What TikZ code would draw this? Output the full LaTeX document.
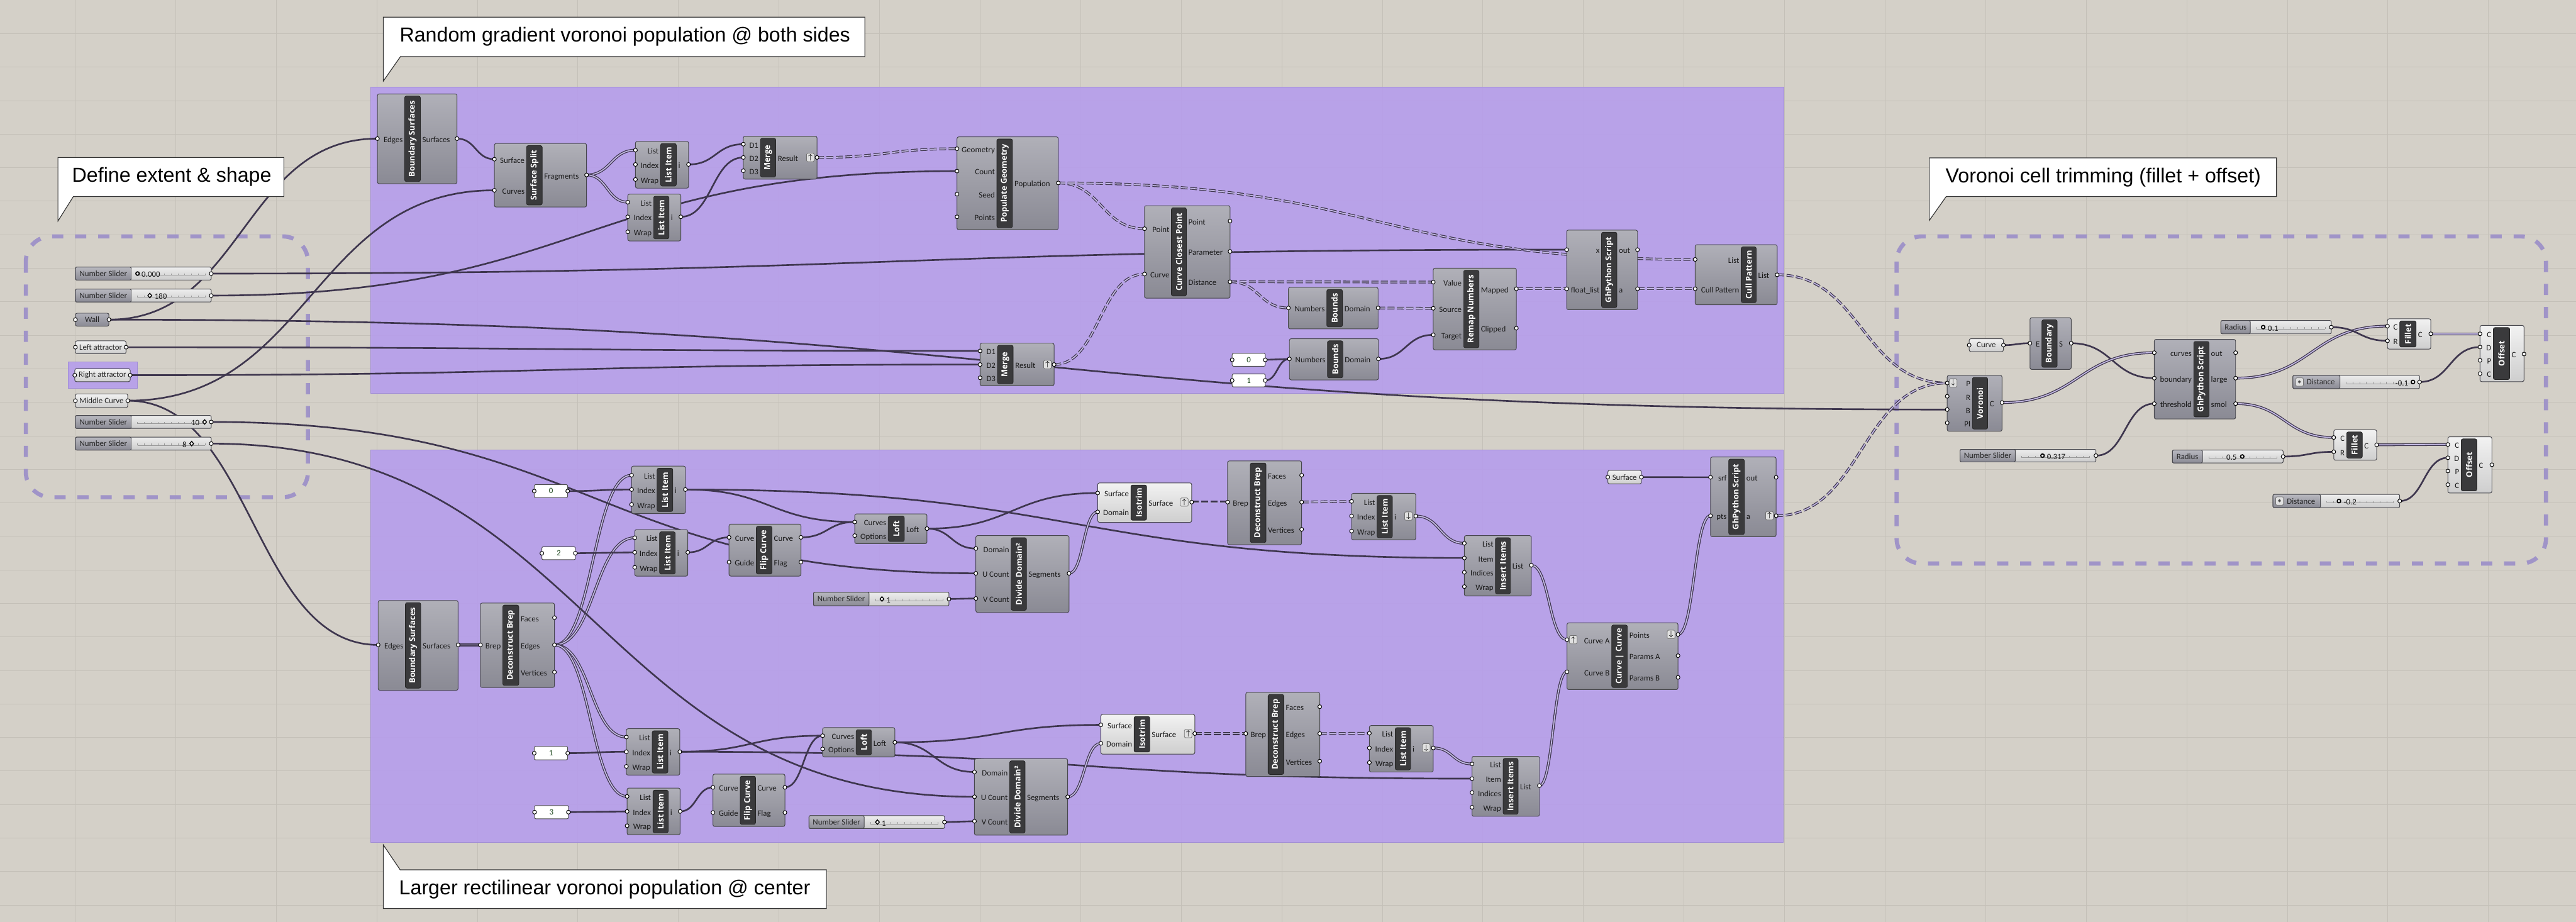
\documentclass[tikz,border=0pt]{standalone}
\usepackage{fontspec}
\setmainfont{Liberation Sans}
\newfontfamily\ghfont{Carlito}
\newfontfamily\barfont{Open Sans}
\usetikzlibrary{calc,shapes.geometric}
\definecolor{ghcanvas}{RGB}{212,208,200}
\definecolor{ghgrid}{RGB}{196,192,184}
\definecolor{ghgroup}{RGB}{182,157,236}
\definecolor{ghgroupline}{RGB}{160,140,215}
\definecolor{ghdash}{RGB}{160,148,200}
\definecolor{ghtop}{RGB}{176,176,184}
\definecolor{ghbot}{RGB}{138,138,148}
\definecolor{ghltop}{RGB}{242,242,242}
\definecolor{ghlbot}{RGB}{206,206,206}
\definecolor{ghedge}{RGB}{70,70,76}
\definecolor{ghbarc}{RGB}{58,58,60}
\definecolor{ghwire}{RGB}{62,54,78}
\definecolor{ghwirein}{RGB}{196,186,228}
\definecolor{ghpanel}{RGB}{30,72,30}
\pgfdeclarelayer{canvas}
\pgfdeclarelayer{wires}
\pgfsetlayers{canvas,wires,main}

% component: style, name, x1, y1, x2, y2, bar x1, bar x2, title
\newcommand{\ghc}[9]{%
  \xdef\gxl{#3}\xdef\gxr{#5}\xdef\gbl{#7}\xdef\gbr{#8}%
  \node[#1, minimum width={(#5-#3)*1cm}, minimum height={(#6-#4)*1cm}] (#2) at ({(#3+#5)/2},{(#4+#6)/2}) {};
  \node[ghbar, minimum width={(#6-#4-0.12)*1cm}, minimum height={(#8-#7)*1cm}] (#2-bar) at ({(#7+#8)/2},{(#4+#6)/2}) {#9};}
% input / output port of the last component
\newcommand{\inp}[3]{%
  \coordinate (#1) at (\gxl,#2);
  \node[plab, anchor=east] (#1-l) at ({\gbl-0.05},#2) {#3};
  \node[port] (#1-p) at (#1) {};}
\newcommand{\outp}[3]{%
  \coordinate (#1) at (\gxr,#2);
  \node[plab, anchor=west] (#1-l) at ({\gbr+0.05},#2) {#3};
  \node[port] (#1-p) at (#1) {};}
% parameter or panel: style, name, x1, y1, x2, y2, text
\newcommand{\ghbox}[7]{%
  \node[#1, minimum width={(#5-#3)*1cm}, minimum height={(#6-#4)*1cm}] (#2) at ({(#3+#5)/2},{(#4+#6)/2}) {#7};
  \coordinate (#2-i) at (#3,{(#4+#6)/2});
  \coordinate (#2-o) at (#5,{(#4+#6)/2});
  \node[port] (#2-ip) at (#2-i) {};
  \node[port] (#2-op) at (#2-o) {};}
% slider: name, x1, y1, x2, y2, split, label
\newcommand{\ghsl}[7]{%
  \node[sldval, minimum width={(#4-#2)*1cm}, minimum height={(#5-#3)*1cm}] (#1) at ({(#2+#4)/2},{(#3+#5)/2}) {};
  \node[sldlab, minimum width={(#6-#2)*1cm}, minimum height={(#5-#3)*1cm}] (#1-lab) at ({(#2+#6)/2},{(#3+#5)/2}) {#7};
  \draw[sldtick] ({#6+0.18},{(#3+#5)/2+0.05}) -- ({#4-0.18},{(#3+#5)/2+0.05});
  \foreach \tk in {0,...,10} \draw[sldtick] ({#6+0.18+\tk*(#4-#6-0.36)/10},{(#3+#5)/2+0.05}) -- ++(0,-0.05);
  \coordinate (#1-o) at (#4,{(#3+#5)/2});
  \node[port] (#1-p) at (#1-o) {};}
% wire from output to input
\newcommand{\wire}[3][wire]{%
  \draw[#1] let \p1=(#2), \p2=(#3), \n1={max(0.5*abs(\x2-\x1),8pt)} in (\p1) .. controls +(\n1,0) and +(-\n1,0) .. (\p2);}

\begin{document}
\begin{tikzpicture}[x=1cm, y=-1cm,
    comp/.style={draw=ghedge, line width=0.5pt, top color=ghtop, bottom color=ghbot,
                 rounded corners=0.05cm, inner sep=0pt, outer sep=0pt},
    compl/.style={comp, top color=ghltop, bottom color=ghlbot},
    ghbar/.style={fill=ghbarc, draw=black!85, line width=0.4pt, rounded corners=0.05cm,
                  rotate=90, inner sep=0pt, text=white, font=\barfont\bfseries\fontsize{6.6}{7}\selectfont},
    plab/.style={inner sep=0pt, text=black!90, text height=1.6ex, text depth=0.45ex,
                 font=\ghfont\fontsize{6.6}{7}\selectfont},
    port/.style={circle, draw=black, fill=white, line width=0.5pt, inner sep=0pt, minimum size=0.11cm},
    param/.style={draw=ghedge, line width=0.5pt, top color=ghltop, bottom color=ghlbot,
                  rounded corners=0.05cm, inner sep=0pt, text=black!85, font=\ghfont\fontsize{6.6}{7}\selectfont},
    paramd/.style={param, top color=ghtop, bottom color=ghbot},
    panel/.style={draw=black!70, line width=0.5pt, fill=white, rounded corners=0.04cm, inner sep=0pt,
                  text=ghpanel, font=\ghfont\fontsize{6.6}{7}\selectfont},
    sldval/.style={draw=ghedge, line width=0.5pt, top color=white!93!black, bottom color=white!80!black,
                   rounded corners=0.04cm, inner sep=0pt},
    sldlab/.style={draw=ghedge, line width=0.5pt, top color=ghtop!90!white, bottom color=ghbot,
                   rounded corners=0.04cm, inner sep=0pt, text=black!85, font=\ghfont\fontsize{6.6}{7}\selectfont},
    sldtick/.style={draw=black!40, line width=0.3pt},
    knobc/.style={circle, draw=black, line width=0.9pt, fill=white, inner sep=0pt, minimum size=0.1cm},
    knobd/.style={diamond, draw=black, line width=0.7pt, fill=white, inner sep=0pt,
                  minimum width=0.12cm, minimum height=0.14cm},
    ghicon/.style={draw=black!55, fill=black!12, rounded corners=0.03cm, inner sep=0pt,
                   minimum width=0.22cm, minimum height=0.24cm, font=\fontsize{6}{6}\selectfont},
    wire/.style={draw=ghwire, line width=1.35pt},
    lwire/.style={draw=ghwire, line width=0.65pt, double=ghwirein, double distance=0.85pt},
    twire/.style={lwire, dash pattern=on 0.2cm off 0.07cm},
    group/.style={fill=ghgroup, fill opacity=0.9, draw=ghgroupline, line width=0.5pt},
    dashbox/.style={draw=ghdash, line width=3.4pt, dash pattern=on 0.32cm off 0.34cm, rounded corners=0.72cm},
    callout/.style={fill=white, draw=black!80, line width=0.6pt},
    ctext/.style={inner sep=0pt, font=\fontsize{16.5}{18}\selectfont},
    gridline/.style={draw=ghgrid, line width=0.35pt}
]
  \useasboundingbox (0,0) rectangle (73.78,26.40);

  % Canvas, grid and groups
  \begin{pgfonlayer}{canvas}
    \fill[ghcanvas] (0,0) rectangle (73.78,26.40);
    \foreach \gx in {0,...,24} \draw[gridline] ({2.15+2.88*\gx},0) -- ({2.15+2.88*\gx},26.40);
    \foreach \gy in {1,...,27} \draw[gridline] (0,{0.96*\gy}) -- (73.78,{0.96*\gy});
    \path[group] (10.61,2.50) rectangle (51.09,11.27);
    \path[group] (10.61,12.89) rectangle (51.08,24.13);
    \path[group] (1.95,10.36) rectangle (3.93,11.13);
    \draw[dashbox] (0.74,6.77) rectangle (8.82,14.24);
    \draw[dashbox] (54.32,6.77) rectangle (72.92,16.14);
  \end{pgfonlayer}

  % Callouts
  \draw[callout] (1.66,4.51) -- (8.13,4.51) -- (8.13,5.63) -- (2.10,5.63) -- (1.66,6.33) -- cycle;
  \node[ctext] (c-def) at (4.92,5.07) {Define extent \& shape};
  \draw[callout] (10.98,0.49) -- (24.77,0.49) -- (24.77,1.62) -- (11.47,1.62) -- (10.98,2.32) -- cycle;
  \node[ctext] (c-rnd) at (17.90,1.055) {Random gradient voronoi population @ both sides};
  \draw[callout] (10.98,24.20) -- (11.46,24.91) -- (23.67,24.91) -- (23.67,26.02) -- (10.98,26.02) -- cycle;
  \node[ctext] (c-lrg) at (17.32,25.465) {Larger rectilinear voronoi population @ center};
  \draw[callout] (55.26,4.52) -- (65.20,4.52) -- (65.20,5.63) -- (55.74,5.63) -- (55.26,6.31) -- cycle;
  \node[ctext] (c-vor) at (60.24,5.075) {Voronoi cell trimming (fillet + offset)};

  % Extent and shape inputs
  \ghsl{sl1}{2.16}{7.65}{6.05}{8.02}{3.76}{Number Slider}
  \node[knobc] (sl1-k) at (3.94,7.835) {};
  \node[plab, anchor=west] (sl1-v) at (4.05,7.835) {0.000};
  \ghsl{sl2}{2.16}{8.28}{6.05}{8.65}{3.76}{Number Slider}
  \node[knobd] (sl2-k) at (4.29,8.465) {};
  \node[plab, anchor=west] (sl2-v) at (4.42,8.465) {180};
  \ghbox{paramd}{wall}{2.16}{8.97}{3.12}{9.34}{Wall}
  \ghbox{param}{latt}{2.16}{9.76}{3.61}{10.13}{Left attractor}
  \ghbox{param}{ratt}{2.14}{10.56}{3.73}{10.93}{Right attractor}
  \ghbox{param}{midc}{2.16}{11.28}{3.66}{11.67}{Middle Curve}
  \ghsl{sl3}{2.16}{11.90}{6.05}{12.27}{3.76}{Number Slider}
  \node[knobd] (sl3-k) at (5.86,12.085) {};
  \node[plab, anchor=west] (sl3-v) at (5.47,12.085) {10};
  \ghsl{sl4}{2.16}{12.52}{6.05}{12.89}{3.76}{Number Slider}
  \node[knobd] (sl4-k) at (5.49,12.705) {};
  \node[plab, anchor=west] (sl4-v) at (5.22,12.705) {8};

  % Top group: random population
  \ghc{comp}{bsT}{10.81}{2.69}{13.09}{5.26}{11.59}{12.04}{Boundary Surfaces}
  \inp{bsT-e}{3.97}{Edges}
  \outp{bsT-s}{3.97}{Surfaces}
  \ghc{comp}{ss}{14.16}{4.11}{16.80}{5.93}{15.08}{15.53}{Surface Split}
  \inp{ss-srf}{4.56}{Surface}
  \inp{ss-crv}{5.45}{Curves}
  \outp{ss-frg}{5.01}{Fragments}
  \ghc{comp}{liA}{18.20}{4.05}{19.72}{5.39}{18.92}{19.37}{List Item}
  \inp{liA-lst}{4.30}{List}
  \inp{liA-idx}{4.71}{Index}
  \inp{liA-wrp}{5.14}{Wrap}
  \outp{liA-i}{4.71}{i}
  \ghc{comp}{liB}{17.98}{5.56}{19.50}{6.90}{18.72}{19.16}{List Item}
  \inp{liB-lst}{5.79}{List}
  \inp{liB-idx}{6.21}{Index}
  \inp{liB-wrp}{6.64}{Wrap}
  \outp{liB-i}{6.21}{i}
  \ghc{comp}{mT}{21.29}{3.90}{23.40}{5.13}{21.78}{22.22}{Merge}
  \inp{mT-d1}{4.13}{D1}
  \inp{mT-d2}{4.51}{D2}
  \inp{mT-d3}{4.89}{D3}
  \outp{mT-res}{4.51}{Result}
  \node[ghicon] (mT-ic) at (23.21,4.51) {$\uparrow$};
  \ghc{comp}{pop}{27.41}{3.92}{30.31}{6.58}{28.55}{29.00}{Populate Geometry}
  \inp{pop-geo}{4.26}{Geometry}
  \inp{pop-cnt}{4.90}{Count}
  \inp{pop-sd}{5.56}{Seed}
  \inp{pop-pts}{6.21}{Points}
  \outp{pop-pop}{5.24}{Population}
  \ghc{comp}{ccp}{32.78}{5.89}{35.23}{8.54}{33.55}{33.98}{Curve Closest Point}
  \inp{ccp-pt}{6.55}{Point}
  \inp{ccp-crv}{7.85}{Curve}
  \outp{ccp-po}{6.33}{Point}
  \outp{ccp-par}{7.20}{Parameter}
  \outp{ccp-dst}{8.07}{Distance}
  \ghc{comp}{mB}{28.07}{9.83}{30.19}{11.05}{28.57}{29.02}{Merge}
  \inp{mB-d1}{10.05}{D1}
  \inp{mB-d2}{10.44}{D2}
  \inp{mB-d3}{10.82}{D3}
  \outp{mB-res}{10.44}{Result}
  \node[ghicon] (mB-ic) at (30.00,10.44) {$\uparrow$};
  \ghbox{panel}{pt0}{35.29}{10.12}{36.24}{10.49}{0}
  \ghbox{panel}{pt1}{35.29}{10.71}{36.24}{11.08}{1}
  \ghc{comp}{bnd1}{36.90}{8.23}{39.47}{9.42}{38.00}{38.45}{Bounds}
  \inp{bnd1-num}{8.82}{Numbers}
  \outp{bnd1-dom}{8.82}{Domain}
  \ghc{comp}{bnd2}{36.93}{9.70}{39.48}{10.88}{38.02}{38.46}{Bounds}
  \inp{bnd2-num}{10.28}{Numbers}
  \outp{bnd2-dom}{10.28}{Domain}
  \ghc{comp}{remap}{41.05}{7.68}{43.43}{10.02}{41.92}{42.36}{Remap Numbers}
  \inp{remap-val}{8.08}{Value}
  \inp{remap-src}{8.83}{Source}
  \inp{remap-tgt}{9.59}{Target}
  \outp{remap-map}{8.27}{Mapped}
  \outp{remap-clp}{9.40}{Clipped}
  \ghc{comp}{pyT}{44.87}{6.59}{46.90}{8.87}{45.87}{46.31}{GhPython Script}
  \inp{pyT-x}{7.15}{x}
  \inp{pyT-fl}{8.27}{float\_list}
  \outp{pyT-out}{7.15}{out}
  \outp{pyT-a}{8.27}{a}
  \ghc{comp}{cull}{48.55}{7.01}{50.90}{8.73}{49.87}{50.30}{Cull Pattern}
  \inp{cull-lst}{7.43}{List}
  \inp{cull-pat}{8.27}{Cull Pattern}
  \outp{cull-out}{7.87}{List}

  % Bottom group: rectilinear population
  \ghc{comp}{bsB}{10.83}{17.20}{13.12}{19.77}{11.61}{12.05}{Boundary Surfaces}
  \inp{bsB-e}{18.47}{Edges}
  \outp{bsB-s}{18.47}{Surfaces}
  \ghc{comp}{dbL}{13.76}{17.27}{15.88}{19.69}{14.40}{14.86}{Deconstruct Brep}
  \inp{dbL-brep}{18.47}{Brep}
  \outp{dbL-fac}{17.69}{Faces}
  \outp{dbL-edg}{18.47}{Edges}
  \outp{dbL-vtx}{19.25}{Vertices}
  \ghbox{panel}{pb0}{15.30}{13.88}{16.26}{14.25}{0}
  \ghbox{panel}{pb2}{15.52}{15.66}{16.48}{16.03}{2}
  \ghbox{panel}{pb1}{15.30}{21.38}{16.26}{21.76}{1}
  \ghbox{panel}{pb3}{15.31}{23.07}{16.28}{23.45}{3}
  \ghc{comp}{li1}{18.09}{13.35}{19.63}{14.71}{18.82}{19.27}{List Item}
  \inp{li1-lst}{13.61}{List}
  \inp{li1-idx}{14.02}{Index}
  \inp{li1-wrp}{14.45}{Wrap}
  \outp{li1-i}{14.02}{i}
  \ghc{comp}{li2}{18.18}{15.17}{19.70}{16.50}{18.89}{19.34}{List Item}
  \inp{li2-lst}{15.40}{List}
  \inp{li2-idx}{15.82}{Index}
  \inp{li2-wrp}{16.25}{Wrap}
  \outp{li2-i}{15.82}{i}
  \ghc{comp}{li3}{17.94}{20.87}{19.47}{22.20}{18.68}{19.13}{List Item}
  \inp{li3-lst}{21.11}{List}
  \inp{li3-idx}{21.53}{Index}
  \inp{li3-wrp}{21.95}{Wrap}
  \outp{li3-i}{21.53}{i}
  \ghc{comp}{li4}{17.96}{22.57}{19.48}{23.91}{18.70}{19.14}{List Item}
  \inp{li4-lst}{22.81}{List}
  \inp{li4-idx}{23.24}{Index}
  \inp{li4-wrp}{23.65}{Wrap}
  \outp{li4-i}{23.24}{i}
  \ghc{comp}{flip1}{20.88}{15.01}{22.94}{16.50}{21.66}{22.11}{Flip Curve}
  \inp{flip1-crv}{15.39}{Curve}
  \inp{flip1-gd}{16.10}{Guide}
  \outp{flip1-co}{15.39}{Curve}
  \outp{flip1-fl}{16.10}{Flag}
  \ghc{comp}{flip2}{20.42}{22.17}{22.48}{23.67}{21.20}{21.64}{Flip Curve}
  \inp{flip2-crv}{22.55}{Curve}
  \inp{flip2-gd}{23.27}{Guide}
  \outp{flip2-co}{22.55}{Curve}
  \outp{flip2-fl}{23.27}{Flag}
  \ghc{comp}{loft1}{24.48}{14.72}{26.55}{15.57}{25.44}{25.90}{Loft}
  \inp{loft1-crv}{14.95}{Curves}
  \inp{loft1-opt}{15.34}{Options}
  \outp{loft1-o}{15.14}{Loft}
  \ghc{comp}{dd1}{27.95}{15.34}{30.62}{17.54}{28.96}{29.40}{Divide Domain²}
  \inp{dd1-dom}{15.71}{Domain}
  \inp{dd1-u}{16.42}{U Count}
  \inp{dd1-v}{17.14}{V Count}
  \outp{dd1-seg}{16.42}{Segments}
  \ghsl{slB1}{23.30}{16.96}{27.18}{17.35}{24.89}{Number Slider}
  \node[knobd] (slB1-k) at (25.26,17.155) {};
  \node[plab, anchor=west] (slB1-v) at (25.38,17.155) {1};
  \ghc{compl}{iso1}{31.44}{13.83}{34.13}{14.96}{32.39}{32.84}{Isotrim}
  \inp{iso1-srf}{14.12}{Surface}
  \inp{iso1-dom}{14.66}{Domain}
  \outp{iso1-o}{14.38}{Surface}
  \node[ghicon] (iso1-ic) at (33.92,14.38) {$\uparrow$};
  \ghc{comp}{db1}{35.16}{13.20}{37.28}{15.60}{35.81}{36.26}{Deconstruct Brep}
  \inp{db1-brep}{14.38}{Brep}
  \outp{db1-fac}{13.61}{Faces}
  \outp{db1-edg}{14.38}{Edges}
  \outp{db1-vtx}{15.16}{Vertices}
  \ghc{comp}{loft2}{23.56}{20.84}{25.63}{21.68}{24.52}{24.96}{Loft}
  \inp{loft2-crv}{21.07}{Curves}
  \inp{loft2-opt}{21.45}{Options}
  \outp{loft2-o}{21.26}{Loft}
  \ghc{comp}{dd2}{27.91}{21.73}{30.58}{23.92}{28.92}{29.36}{Divide Domain²}
  \inp{dd2-dom}{22.11}{Domain}
  \inp{dd2-u}{22.82}{U Count}
  \inp{dd2-v}{23.52}{V Count}
  \outp{dd2-seg}{22.82}{Segments}
  \ghsl{slB2}{23.17}{23.36}{27.05}{23.73}{24.75}{Number Slider}
  \node[knobd] (slB2-k) at (25.13,23.545) {};
  \node[plab, anchor=west] (slB2-v) at (25.25,23.545) {1};
  \ghc{compl}{iso2}{31.53}{20.46}{34.22}{21.60}{32.48}{32.93}{Isotrim}
  \inp{iso2-srf}{20.76}{Surface}
  \inp{iso2-dom}{21.29}{Domain}
  \outp{iso2-o}{21.01}{Surface}
  \node[ghicon] (iso2-ic) at (34.03,21.01) {$\uparrow$};
  \ghc{comp}{db2}{35.68}{19.83}{37.80}{22.24}{36.32}{36.77}{Deconstruct Brep}
  \inp{db2-brep}{21.01}{Brep}
  \outp{db2-fac}{20.24}{Faces}
  \outp{db2-edg}{21.01}{Edges}
  \outp{db2-vtx}{21.80}{Vertices}
  \ghc{comp}{liR1}{38.71}{14.13}{40.55}{15.46}{39.44}{39.88}{List Item}
  \inp{liR1-lst}{14.36}{List}
  \inp{liR1-idx}{14.78}{Index}
  \inp{liR1-wrp}{15.21}{Wrap}
  \outp{liR1-i}{14.78}{i}
  \node[ghicon] (liR1-ic) at (40.34,14.78) {$\downarrow$};
  \ghc{comp}{ins1}{41.94}{15.34}{43.86}{17.07}{42.83}{43.26}{Insert Items}
  \inp{ins1-lst}{15.56}{List}
  \inp{ins1-itm}{15.98}{Item}
  \inp{ins1-ind}{16.39}{Indices}
  \inp{ins1-wrp}{16.80}{Wrap}
  \outp{ins1-o}{16.19}{List}
  \ghc{comp}{liR2}{39.22}{20.78}{41.05}{22.11}{39.96}{40.40}{List Item}
  \inp{liR2-lst}{21.00}{List}
  \inp{liR2-idx}{21.42}{Index}
  \inp{liR2-wrp}{21.84}{Wrap}
  \outp{liR2-i}{21.42}{i}
  \node[ghicon] (liR2-ic) at (40.85,21.42) {$\downarrow$};
  \ghc{comp}{ins2}{42.16}{21.66}{44.09}{23.38}{43.05}{43.48}{Insert Items}
  \inp{ins2-lst}{21.88}{List}
  \inp{ins2-itm}{22.30}{Item}
  \inp{ins2-ind}{22.70}{Indices}
  \inp{ins2-wrp}{23.12}{Wrap}
  \outp{ins2-o}{22.50}{List}
  \ghc{comp}{cxc}{44.88}{17.84}{48.06}{19.75}{46.16}{46.61}{Curve | Curve}
  \inp{cxc-a}{18.32}{Curve A}
  \inp{cxc-b}{19.24}{Curve B}
  \outp{cxc-pts}{18.17}{Points}
  \outp{cxc-pa}{18.78}{Params A}
  \outp{cxc-pb}{19.40}{Params B}
  \node[ghicon] (cxc-ica) at (45.06,18.32) {$\uparrow$};
  \node[ghicon] (cxc-icp) at (47.86,18.17) {$\downarrow$};
  \ghbox{param}{srf}{46.05}{13.47}{47.01}{13.86}{Surface}
  \ghc{comp}{pyB}{48.99}{13.09}{50.87}{15.37}{49.51}{49.96}{GhPython Script}
  \inp{pyB-srf}{13.67}{srf}
  \inp{pyB-pts}{14.77}{pts}
  \outp{pyB-out}{13.67}{out}
  \outp{pyB-a}{14.77}{a}
  \node[ghicon] (pyB-ic) at (50.68,14.77) {$\uparrow$};

  % Trimming: fillet + offset
  \ghbox{param}{crv}{56.40}{9.70}{57.38}{10.07}{Curve}
  \ghc{comp}{bndry}{58.14}{9.10}{59.32}{10.58}{58.48}{58.92}{Boundary}
  \inp{bndry-e}{9.83}{E}
  \outp{bndry-s}{9.83}{S}
  \ghc{comp}{vor}{55.77}{10.75}{57.34}{12.35}{56.49}{56.93}{Voronoi}
  \inp{vor-p}{10.97}{P}
  \inp{vor-r}{11.35}{R}
  \inp{vor-b}{11.73}{B}
  \inp{vor-pl}{12.11}{Pl}
  \outp{vor-c}{11.53}{C}
  \node[ghicon] (vor-ic) at (55.94,10.97) {$\downarrow$};
  \ghsl{sl317}{56.14}{12.87}{60.03}{13.23}{57.72}{Number Slider}
  \node[knobc] (sl317-k) at (58.50,13.05) {};
  \node[plab, anchor=west] (sl317-v) at (58.62,13.05) {0.317};
  \ghc{comp}{pyR}{61.70}{9.72}{64.03}{12.00}{62.83}{63.27}{GhPython Script}
  \inp{pyR-crv}{10.10}{curves}
  \inp{pyR-bnd}{10.83}{boundary}
  \inp{pyR-thr}{11.56}{threshold}
  \outp{pyR-out}{10.10}{out}
  \outp{pyR-lrg}{10.83}{large}
  \outp{pyR-sml}{11.56}{smol}
  \ghsl{rad1}{63.61}{9.18}{66.77}{9.56}{64.45}{Radius}
  \node[knobc] (rad1-k) at (64.82,9.37) {};
  \node[plab, anchor=west] (rad1-v) at (64.95,9.37) {0.1};
  \ghsl{dist1}{65.67}{10.75}{69.30}{11.13}{67.02}{\hspace{0.25cm}Distance}
  \node[ghicon] (dist1-ic) at (65.86,10.94) {$\ast$};
  \node[plab, anchor=west] (dist1-v) at (68.60,10.94) {-0.1};
  \node[knobc] (dist1-k) at (69.11,10.94) {};
  \ghc{compl}{fil1}{68.38}{9.13}{69.62}{10.00}{68.73}{69.20}{Fillet}
  \inp{fil1-c}{9.34}{C}
  \inp{fil1-r}{9.76}{R}
  \outp{fil1-o}{9.56}{C}
  \ghc{compl}{off1}{71.03}{9.32}{72.29}{10.93}{71.41}{71.88}{Offset}
  \inp{off1-c}{9.56}{C}
  \inp{off1-d}{9.94}{D}
  \inp{off1-p}{10.32}{P}
  \inp{off1-cc}{10.70}{C}
  \outp{off1-o}{10.14}{C}
  \ghsl{rad2}{62.22}{12.89}{65.39}{13.26}{63.08}{Radius}
  \node[plab, anchor=west] (rad2-v) at (63.76,13.075) {0.5};
  \node[knobc] (rad2-k) at (64.22,13.075) {};
  \ghsl{dist2}{65.10}{14.16}{68.73}{14.54}{66.46}{\hspace{0.25cm}Distance}
  \node[ghicon] (dist2-ic) at (65.29,14.35) {$\ast$};
  \node[knobc] (dist2-k) at (66.99,14.35) {};
  \node[plab, anchor=west] (dist2-v) at (67.12,14.35) {-0.2};
  \ghc{compl}{fil2}{66.84}{12.31}{68.07}{13.18}{67.21}{67.66}{Fillet}
  \inp{fil2-c}{12.53}{C}
  \inp{fil2-r}{12.94}{R}
  \outp{fil2-o}{12.74}{C}
  \ghc{compl}{off2}{70.11}{12.51}{71.37}{14.12}{70.49}{70.94}{Offset}
  \inp{off2-c}{12.73}{C}
  \inp{off2-d}{13.11}{D}
  \inp{off2-p}{13.49}{P}
  \inp{off2-cc}{13.88}{C}
  \outp{off2-o}{13.31}{C}

  % Wires
  \begin{pgfonlayer}{wires}
    \wire{wall-o}{bsT-e}
    \wire{wall-o}{vor-b}
    \wire{bsT-s}{ss-srf}
    \wire{midc-o}{ss-crv}
    \wire{midc-o}{bsB-e}
    \wire[lwire]{ss-frg}{liA-lst}
    \wire[lwire]{ss-frg}{liB-lst}
    \wire{liA-i}{mT-d1}
    \wire{liB-i}{mT-d2}
    \wire[twire]{mT-res}{pop-geo}
    \wire{sl2-o}{pop-cnt}
    \wire{sl1-o}{pyT-x}
    \wire{latt-o}{mB-d1}
    \wire{ratt-o}{mB-d2}
    \wire[twire]{mB-res}{ccp-crv}
    \wire[twire]{pop-pop}{ccp-pt}
    \wire[twire]{pop-pop}{cull-lst}
    \wire[twire]{ccp-dst}{remap-val}
    \wire[twire]{ccp-dst}{bnd1-num}
    \wire[twire]{bnd1-dom}{remap-src}
    \wire{pt0-o}{bnd2-num}
    \wire{pt1-o}{bnd2-num}
    \wire{bnd2-dom}{remap-tgt}
    \wire[twire]{remap-map}{pyT-fl}
    \wire[twire]{pyT-a}{cull-pat}
    \wire[twire]{cull-out}{vor-p}

    \wire[lwire]{bsB-s}{dbL-brep}
    \wire[lwire]{dbL-edg}{li1-lst}
    \wire[lwire]{dbL-edg}{li2-lst}
    \wire[lwire]{dbL-edg}{li3-lst}
    \wire[lwire]{dbL-edg}{li4-lst}
    \wire{pb0-o}{li1-idx}
    \wire{pb2-o}{li2-idx}
    \wire{pb1-o}{li3-idx}
    \wire{pb3-o}{li4-idx}
    \wire{li2-i}{flip1-crv}
    \wire{li4-i}{flip2-crv}
    \wire{li1-i}{loft1-crv}
    \wire{flip1-co}{loft1-crv}
    \wire{li1-i}{ins1-itm}
    \wire{li3-i}{loft2-crv}
    \wire{flip2-co}{loft2-crv}
    \wire{li3-i}{ins2-itm}
    \wire{sl3-o}{dd1-u}
    \wire{sl4-o}{dd2-u}
    \wire{loft1-o}{iso1-srf}
    \wire{loft1-o}{dd1-dom}
    \wire[lwire]{dd1-seg}{iso1-dom}
    \wire{slB1-o}{dd1-v}
    \wire[twire]{iso1-o}{db1-brep}
    \wire[twire]{db1-edg}{liR1-lst}
    \wire[lwire]{liR1-i}{ins1-lst}
    \wire[lwire]{ins1-o}{cxc-a}
    \wire{loft2-o}{iso2-srf}
    \wire{loft2-o}{dd2-dom}
    \wire[lwire]{dd2-seg}{iso2-dom}
    \wire{slB2-o}{dd2-v}
    \wire[twire]{iso2-o}{db2-brep}
    \wire[twire]{db2-edg}{liR2-lst}
    \wire[lwire]{liR2-i}{ins2-lst}
    \wire[lwire]{ins2-o}{cxc-b}
    \wire[lwire]{cxc-pts}{pyB-pts}
    \wire{srf-o}{pyB-srf}
    \wire[twire]{pyB-a}{vor-p}

    \wire{crv-o}{bndry-e}
    \wire{bndry-s}{pyR-bnd}
    \wire[lwire]{vor-c}{pyR-crv}
    \wire{sl317-o}{pyR-thr}
    \wire[lwire]{pyR-lrg}{fil1-c}
    \wire{rad1-o}{fil1-r}
    \wire[lwire]{fil1-o}{off1-c}
    \wire{dist1-o}{off1-d}
    \wire[lwire]{pyR-sml}{fil2-c}
    \wire{rad2-o}{fil2-r}
    \wire[lwire]{fil2-o}{off2-c}
    \wire{dist2-o}{off2-d}
  \end{pgfonlayer}
\end{tikzpicture}
\end{document}
